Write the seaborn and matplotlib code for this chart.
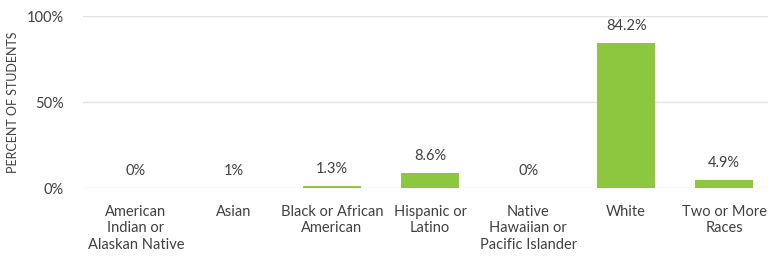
import matplotlib
matplotlib.use("Agg")
import matplotlib.pyplot as plt
import seaborn as sns
import pandas as pd

# data
groups = ["American\nIndian or\nAlaskan Native", "Asian", "Black or African\nAmerican",
          "Hispanic or\nLatino", "Native\nHawaiian or\nPacific Islander", "White",
          "Two or More\nRaces"]
percent = [0.0, 0.2, 1.3, 8.6, 0.0, 84.2, 4.9]
labels = ["0%", "1%", "1.3%", "8.6%", "0%", "84.2%", "4.9%"]

df = pd.DataFrame({"group": groups, "percent": percent})

sns.set_style("white")
plt.rcParams["font.family"] = ["Lato", "DejaVu Sans"]

fig = plt.figure(figsize=(7.68, 2.61), dpi=100)
ax = fig.add_axes([83 / 768, 1 - 188 / 261, 1 - 83 / 768 + 0.008, (188 - 16) / 261])

sns.barplot(data=df, x="group", y="percent", color="#8DC63F", width=0.59,
            saturation=1, linewidth=0, ax=ax, zorder=3)

for i, (v, lab) in enumerate(zip(percent, labels)):
    ax.annotate(lab, (i, v), xytext=(0, 7), textcoords="offset points",
                ha="center", va="bottom", fontsize=10.5, color="#404040")

ax.set_ylim(0, 100)
ax.set_yticks([0, 50, 100])
ax.set_yticklabels(["0%", "50%", "100%"])
ax.yaxis.grid(True, color="#e3e3e3", linewidth=1, zorder=0)
ax.set_xlim(-0.54, 6.51)
for s in ax.spines.values():
    s.set_visible(False)
ax.tick_params(axis="y", length=0, pad=14, labelsize=10.5, labelcolor="#404040")
ax.tick_params(axis="x", length=0, pad=12, labelsize=10.5, labelcolor="#404040")
for t in ax.get_xticklabels():
    t.set_linespacing(1.25)
ax.set_xlabel("")
ax.set_ylabel("PERCENT OF STUDENTS", fontsize=9, color="#404040", labelpad=5)

fig.savefig("out.png", dpi=100)
